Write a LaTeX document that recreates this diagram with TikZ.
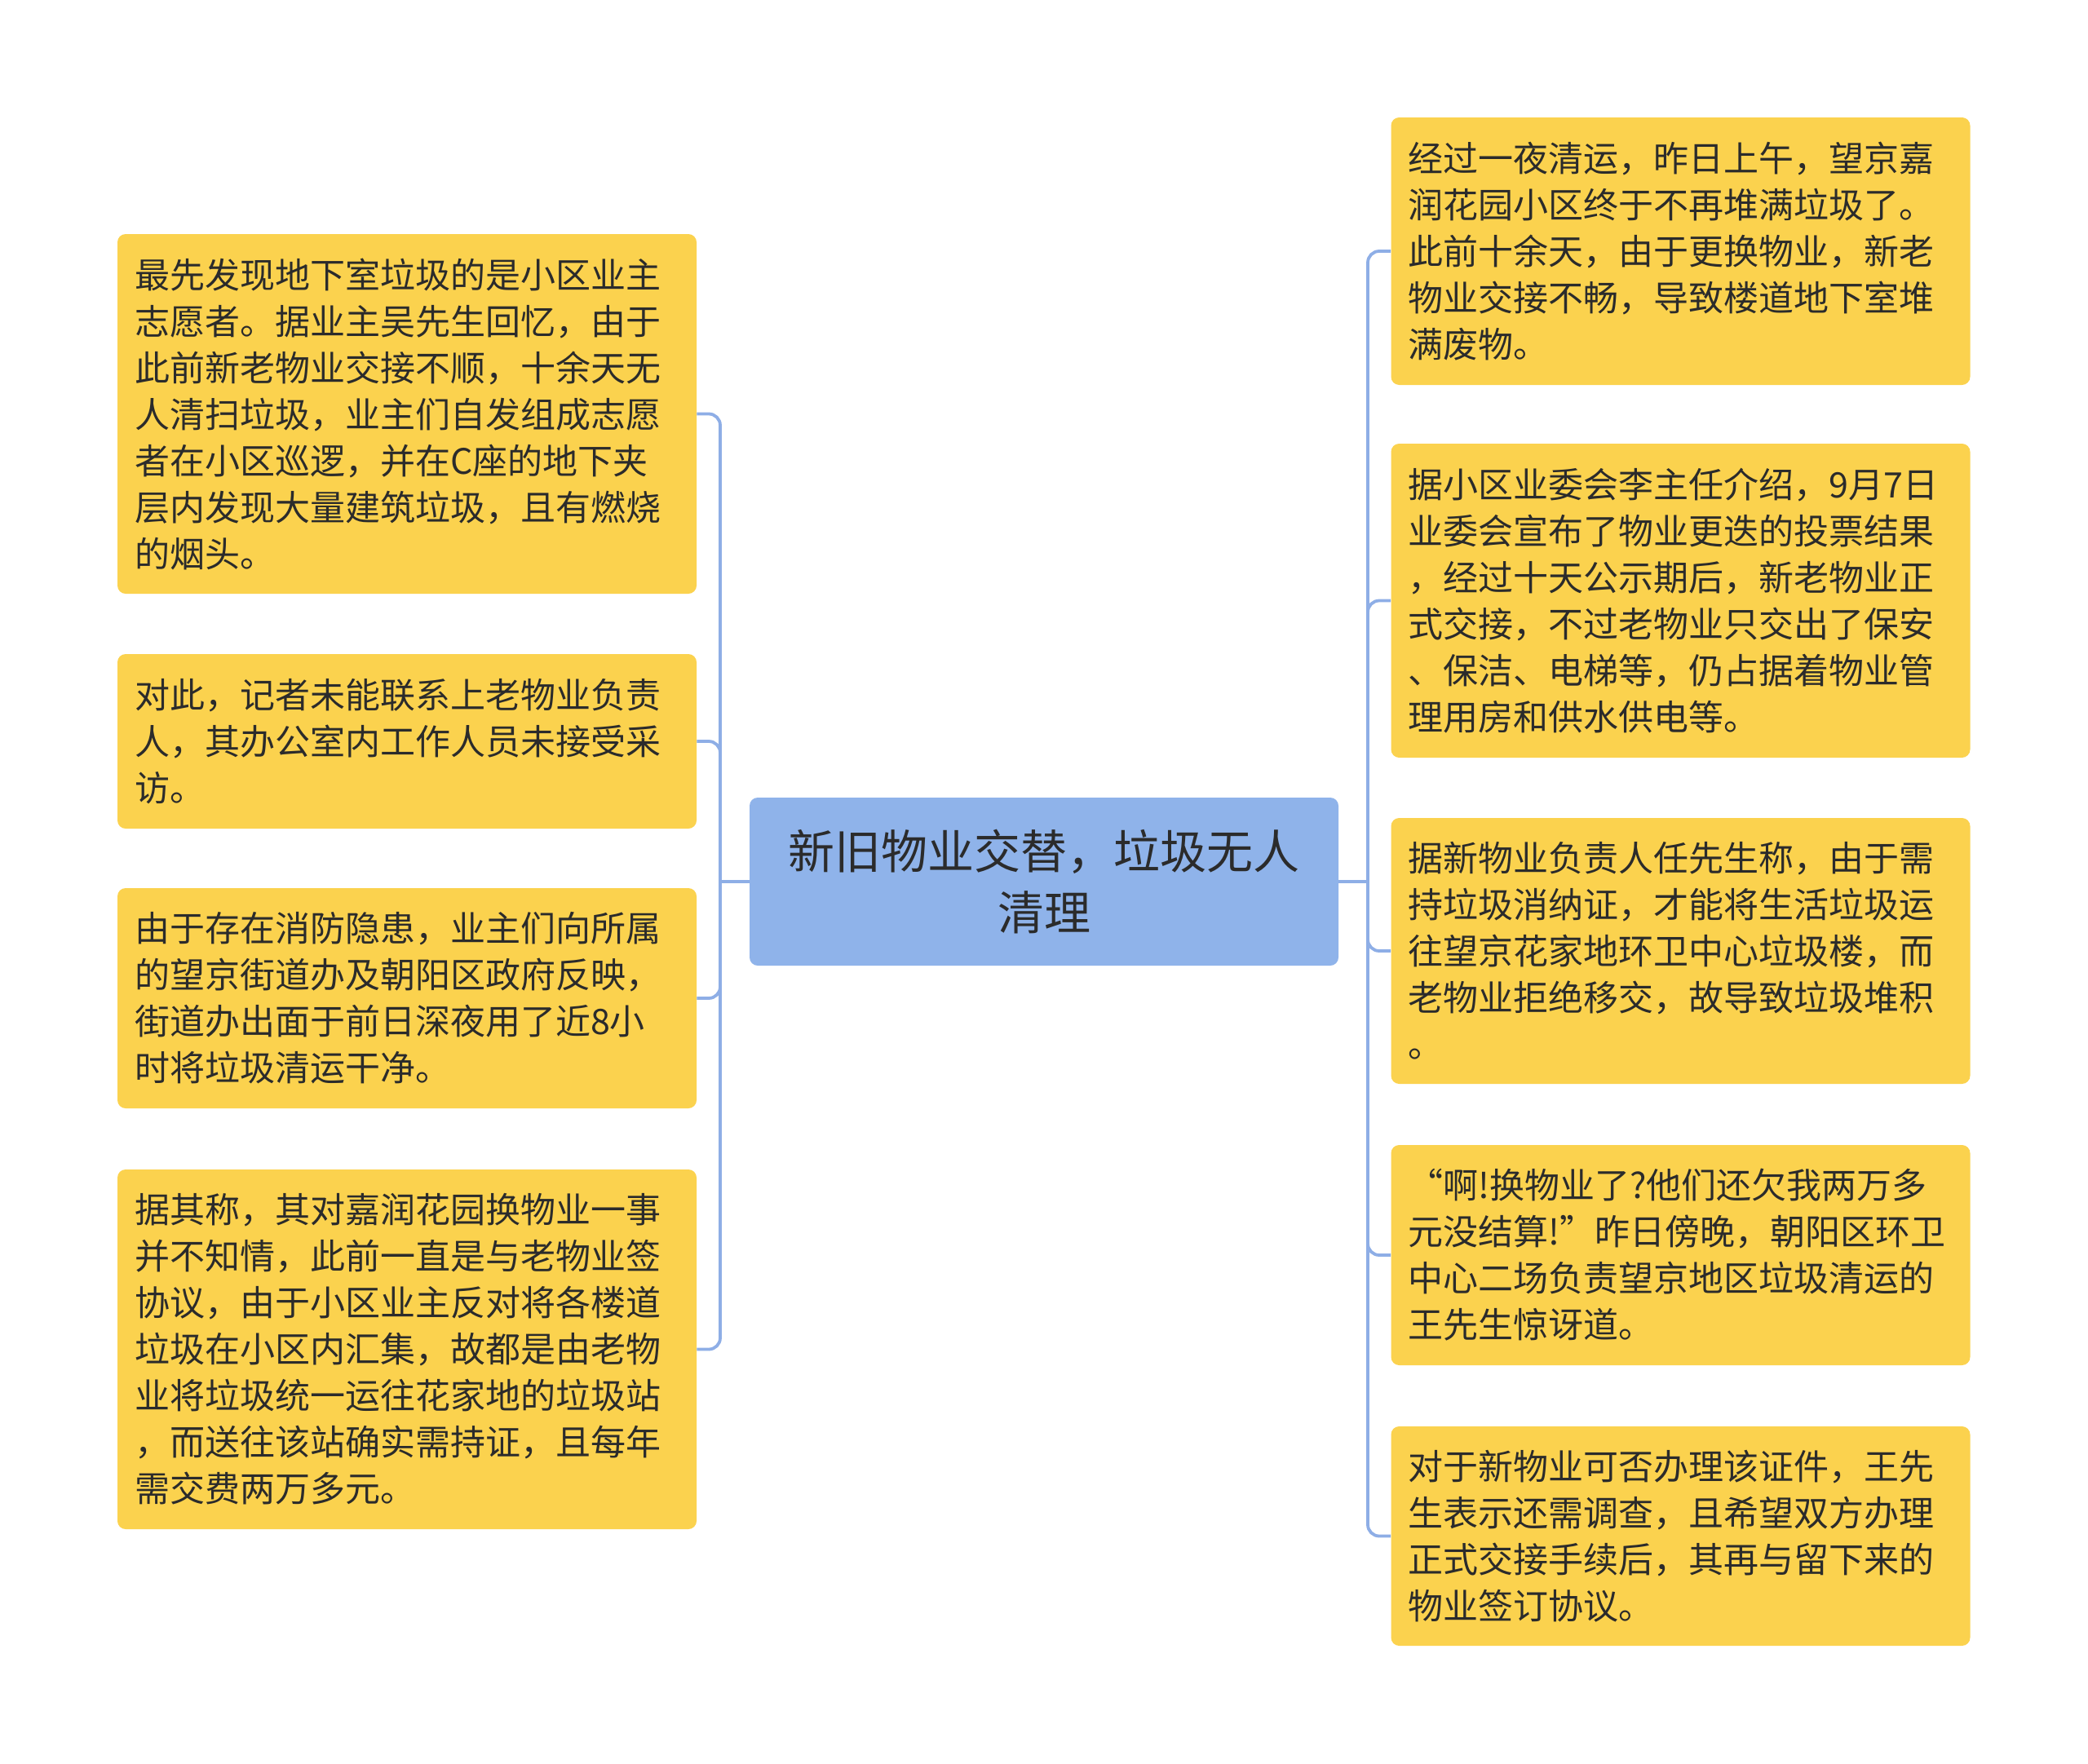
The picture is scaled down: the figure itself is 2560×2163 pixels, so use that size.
\documentclass[tikz,border=0pt]{standalone}
\usepackage{fontspec}
\setmainfont{Noto Sans CJK SC}
\definecolor{leafc}{HTML}{FBD24E}
\definecolor{rootc}{HTML}{8FB3EA}
\definecolor{linec}{HTML}{8EAEE6}
\definecolor{txtc}{HTML}{2B2B2B}
\begin{document}
\begin{tikzpicture}[x=0.5pt,y=-0.5pt,
  leaf/.style={fill=leafc, rounded corners=5pt, text=txtc, align=left,
    text width=334pt, inner xsep=10.5pt, inner ysep=0pt,
    font=\fontsize{21.5}{28.5}\selectfont, anchor=center},
  root/.style={fill=rootc, rounded corners=5pt, text=txtc, align=center,
    minimum width=361pt, minimum height=103pt, inner sep=0pt,
    font=\fontsize{28.5}{37.5}\selectfont, anchor=center},
  conn/.style={draw=linec, line width=1.9pt, rounded corners=7pt}
]
\useasboundingbox (0,0) rectangle (2560,2163);

\node[root] (C) at (1280,1081) {新旧物业交替，垃圾无人\\清理};

\node[leaf, minimum height=220.5pt] (L1) at (499,507.5) {最先发现地下室垃圾的是小区业主\\志愿者。据业主吴先生回忆，由于\\此前新老物业交接不顺，十余天无\\人清扫垃圾，业主们自发组成志愿\\者在小区巡逻，并在C座的地下夹\\层内发现大量建筑垃圾，且有燃烧\\的烟头。};
\node[leaf, minimum height=107pt] (L2) at (499,909) {对此，记者未能联系上老物业负责\\人，其办公室内工作人员未接受采\\访。};
\node[leaf, minimum height=135pt] (L3) at (499,1224) {由于存在消防隐患，业主们向所属\\的望京街道办及朝阳区政府反映，\\街道办出面于前日深夜用了近8小\\时将垃圾清运干净。};
\node[leaf, minimum height=220.5pt] (L4) at (499,1654.5) {据其称，其对嘉润花园换物业一事\\并不知情，此前一直是与老物业签\\协议，由于小区业主反对将各楼道\\垃圾在小区内汇集，故都是由老物\\业将垃圾统一运往花家地的垃圾站\\，而送往该站确实需持证，且每年\\需交费两万多元。};

\node[leaf, minimum height=164pt] (R1) at (2060.5,308) {经过一夜清运，昨日上午，望京嘉\\润花园小区终于不再堆满垃圾了。\\此前十余天，由于更换物业，新老\\物业交接不畅，导致楼道地下室堆\\满废物。};
\node[leaf, minimum height=192.5pt] (R2) at (2060.5,736.5) {据小区业委会李主任介绍，9月7日\\业委会宣布了物业更迭的投票结果\\，经过十天公示期后，新老物业正\\式交接，不过老物业只交出了保安\\、保洁、电梯等，仍占据着物业管\\理用房和供水供电等。};
\node[leaf, minimum height=163pt] (R3) at (2060.5,1166) {据新物业负责人任先生称，由于需\\持垃圾消纳证，才能将生活垃圾运\\往望京花家地环卫中心垃圾楼，而\\老物业拒绝移交，故导致垃圾堆积\\。};
\node[leaf, minimum height=135pt] (R4) at (2060.5,1539) {“啊!换物业了?他们还欠我两万多\\元没结算!”昨日傍晚，朝阳区环卫\\中心二场负责望京地区垃圾清运的\\王先生惊讶道。};
\node[leaf, minimum height=134.5pt] (R5) at (2060.5,1883.5) {对于新物业可否办理该证件，王先\\生表示还需调查，且希望双方办理\\正式交接手续后，其再与留下来的\\物业签订协议。};

\coordinate (jl) at (883,1081);
\coordinate (jr) at (1677,1081);
\draw[conn] (C.west) -- (jl);
\draw[conn] (C.east) -- (jr);
\foreach \n in {L1,L2,L3,L4} \draw[conn] (jl) |- (\n.east);
\foreach \n in {R1,R2,R3,R4,R5} \draw[conn] (jr) |- (\n.west);
\end{tikzpicture}
\end{document}
